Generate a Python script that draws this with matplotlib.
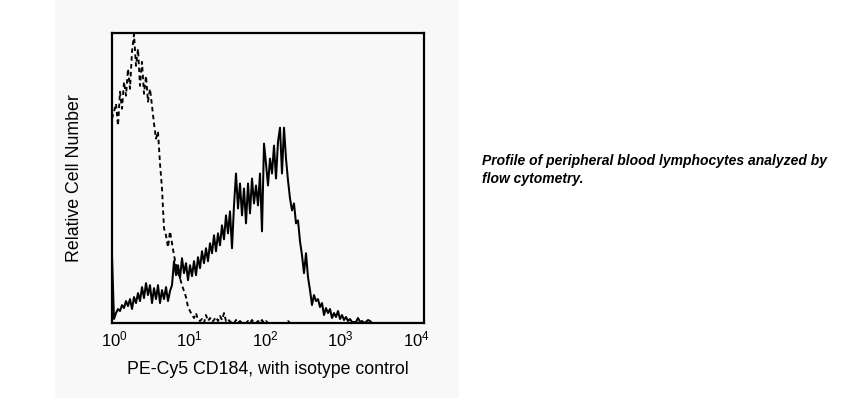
import numpy as np
import matplotlib
matplotlib.use("Agg")
import matplotlib.pyplot as plt
from matplotlib.patches import Rectangle
from matplotlib.transforms import ScaledTranslation

plt.rcParams['font.family'] = ['Liberation Sans', 'DejaVu Sans']
plt.rcParams['mathtext.fontset'] = 'custom'
plt.rcParams['mathtext.rm'] = 'Liberation Sans'

# Relative cell counts per log-channel (channels evenly spaced over 4 decades)
cd184 = [67, 4, 10, 14, 12, 18, 15, 22, 17, 24, 14, 26, 20, 30, 22, 36, 25, 40, 28, 38,
         20, 35, 24, 38, 20, 33, 24, 36, 22, 32, 38, 62, 48, 58, 45, 65, 50, 60, 43, 58,
         47, 62, 48, 66, 55, 72, 60, 75, 62, 80, 70, 88, 72, 90, 78, 98, 84, 108, 90, 112,
         75, 118, 150, 115, 140, 108, 135, 100, 140, 110, 145, 120, 138, 118, 150, 92, 180, 160, 138, 165,
         150, 178, 145, 182, 196, 150, 196, 165, 143, 125, 113, 120, 100, 103, 82, 68, 50, 70, 46, 33,
         18, 28, 22, 24, 16, 20, 8, 15, 10, 14, 5, 10, 6, 12, 4, 8, 3, 6, 2, 4,
         1, 1, 1, 5, 1, 2, 0, 1, 3, 2, 0,
         0, 0, 0, 0, 0, 0, 0, 0, 0, 0, 0, 0, 0, 0, 0, 0, 0, 0, 0, 0, 0, 0, 0, 0, 0, 0]
isotype = [205, 212, 220, 198, 232, 215, 242, 228, 255, 235, 272, 290, 258, 275, 238, 262, 230, 248, 222, 235,
           218, 200, 185, 192, 160, 135, 95, 88, 76, 92, 80, 68, 58, 50, 45, 38, 32, 26, 16, 12,
           8, 5, 10, 3, 2, 4, 0, 8, 2, 5, 1, 3, 6, 2, 7, 3, 10, 2, 4, 1,
           2, 0, 3, 0, 2, 0, 0, 0, 2, 0, 3, 0, 0, 2, 0, 3, 0, 2, 0, 0,
           0, 0, 0, 0, 0, 0, 0, 0, 2, 0] + [0] * 67
tick_vals = [1, 10, 100, 1000, 10000]
tick_labels = [r'$\mathregular{10^{0}}$', r'$\mathregular{10^{1}}$', r'$\mathregular{10^{2}}$',
               r'$\mathregular{10^{3}}$', r'$\mathregular{10^{4}}$']
x_label = "PE-Cy5 CD184, with isotype control"
y_label = "Relative Cell Number"
caption = "Profile of peripheral blood lymphocytes analyzed by\nflow cytometry."

channels = np.logspace(0, 4, len(cd184))

W, H = 868, 398
fig = plt.figure(figsize=(W / 100, H / 100), dpi=100)
fig.patch.set_facecolor('white')
fig.patches.append(Rectangle((55 / W, 0), (459 - 55) / W, 1, transform=fig.transFigure,
                             facecolor='#f8f8f8', edgecolor='none', zorder=-10))

ax = fig.add_axes([112 / W, (H - 323) / H, (424 - 112) / W, (323 - 33) / H])
ax.set_zorder(5)
ax.set_facecolor('#f8f8f8')
ax.plot(channels, isotype, color='black', lw=1.35, linestyle=(0, (2.4, 1.8)))
ax.plot(channels, cd184, color='black', lw=1.45)
ax.set_xscale('log')
ax.set_xlim(1, 10000)
ax.set_ylim(0, 291)
ax.set_xticks(tick_vals)
ax.set_xticklabels(tick_labels, fontsize=12)
ax.minorticks_off()
ax.tick_params(axis='x', length=0, pad=5)
# the printed labels sit slightly left of the decade positions toward the right end
shifts_px = [2, -1, -3, -6, -8]
for lab, dx in zip(ax.get_xticklabels(), shifts_px):
    lab.set_transform(lab.get_transform() + ScaledTranslation(dx / 100, 0, fig.dpi_scale_trans))
ax.set_yticks([])
for s in ax.spines.values():
    s.set_linewidth(1.6)
ax.set_xlabel(x_label, fontsize=12.8, labelpad=8)
ax.set_ylabel(y_label, fontsize=12.8, labelpad=21)

fig.text(482 / W, (H - 183) / H, caption, fontsize=10, fontweight='bold', fontstyle='italic',
         ha='left', va='baseline', linespacing=1.35, zorder=6)

fig.savefig('out.png', dpi=100)
